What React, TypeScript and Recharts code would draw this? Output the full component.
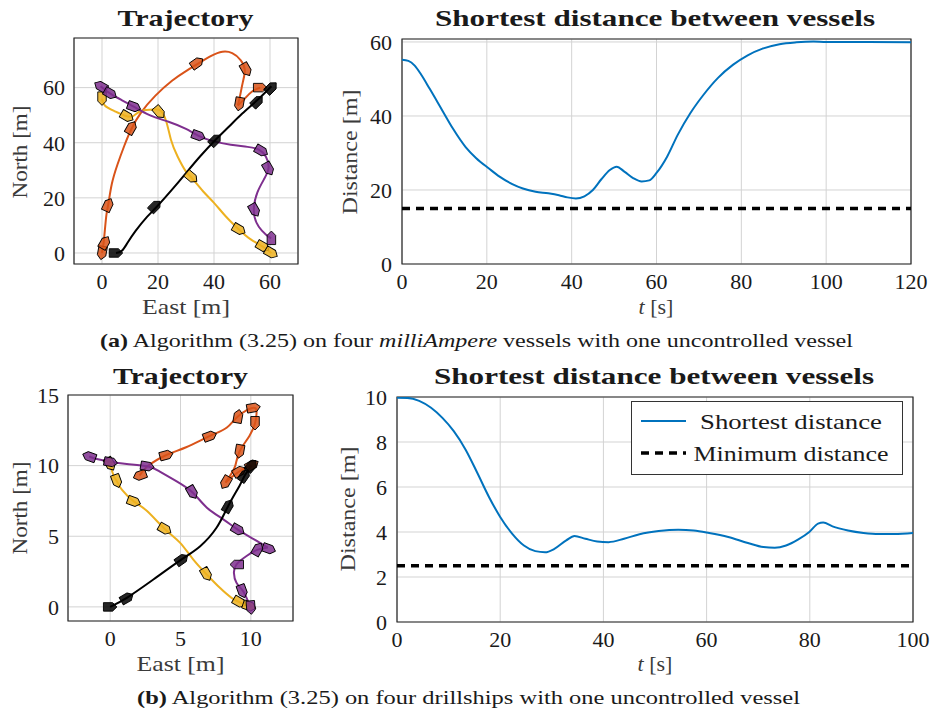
import { ComposedChart, Line, Scatter, XAxis, YAxis, CartesianGrid, ReferenceArea, ReferenceLine, Legend } from 'recharts';

const ORANGE = '#D95319';
const YELLOW = '#EDB120';
const PURPLE = '#7E2F8E';
const BLACK = '#000000';
const BLUE = '#0072BD';
const FONT = "'Liberation Serif', serif";

// ---- (a) milliAmpere vessels: paths as [east, north] in metres ----
const orangePathA1 = [[0, 0], [0.5, 3], [1, 8], [1.6, 14], [2.3, 18], [3.5, 25], [5.5, 32], [8, 39], [10.5, 45], [14, 51], [19, 57], [25, 62.5], [30, 66], [34, 68.5], [39, 71.5], [43, 73], [46.5, 72.5], [49.5, 70], [51, 66.5], [50.3, 62], [49.3, 57], [48.5, 53.5]];
const orangePathA2 = [[48.5, 53.5], [51, 56], [53.5, 58.5], [56.5, 60]];
const yellowPathA = [[0, 56], [1, 53.5], [4.4, 51.5], [8, 49.9], [11, 49.6], [13.9, 51.5], [18.7, 52.1], [21, 51.6], [22.9, 47.9], [24.6, 41.2], [27, 35], [30, 29.5], [32, 27.3], [36, 22.5], [40, 18.2], [44, 13.5], [48.7, 8.7], [53, 5], [57.4, 2.3], [60.5, 0]];
const purplePathA = [[-0.5, 60.5], [3, 57.8], [7, 55.5], [11.5, 53], [17, 50], [24, 47.5], [30, 45], [34.5, 42.5], [40, 40.5], [46, 39.3], [52, 38.5], [56, 37.5], [58.5, 35], [59.5, 31], [58, 27], [55.5, 22], [54.3, 17], [54.5, 13], [56, 9.5], [58.5, 6.7], [60.4, 5.3]];
const blackPathA = [[5, 0], [7, 0.7], [9, 3.5], [12, 8], [16, 13], [19.3, 16.5], [25, 23], [30, 29], [35, 35], [40.5, 41], [45, 45.5], [50, 50.5], [55.5, 55.5], [60.5, 60.5]];

// ship snapshots: [east, north, heading deg]
const orangeShipsA = [[0, 0, -100], [1, 3.8, 60], [2.2, 17.5, 65], [10.5, 45.5, 60], [34, 69, 35], [51.5, 66.5, -60], [49, 54, -100], [56.5, 60, 0]];
const yellowShipsA = [[0, 56, -90], [9, 49.5, -30], [20.5, 51, -50], [32, 27.5, -40], [49, 8.5, -30], [57.5, 2.3, -30], [60.5, 0, -30]];
const purpleShipsA = [[-0.5, 60.5, 150], [3, 57.8, -30], [11.5, 53, -20], [34.5, 42.5, -20], [57, 37, -30], [59.5, 30.5, -60], [54.5, 15.5, -60], [60.5, 5.5, 90]];
const blackShipsA = [[5, 0, 0], [19, 17, 45], [40.5, 41, 45], [55.5, 55, 45], [60.5, 60, 45]];

// ---- (b) drillships ----
const orangePathB1 = [[2.1, 9.3], [2.65, 9.95], [4, 10.75], [5.4, 11.3], [7.1, 12.1], [8.3, 12.7], [9.1, 13.5], [10.2, 14.1], [10.4, 13.6], [10.3, 13], [9.9, 12.1], [9.2, 11], [8.9, 10], [8.6, 9.4], [8.2, 8.8]];
const orangePathB2 = [[8.2, 8.8], [8.6, 9.15], [9.2, 9.6], [10.05, 10.05]];
const yellowPathB = [[0, 10.1], [0.24, 9.3], [0.47, 8.9], [0.83, 8.3], [1.7, 7.45], [2.6, 6.8], [3.9, 5.5], [4.96, 4.55], [5.9, 3.36], [6.86, 2.3], [7.8, 1.35], [8.63, 0.64], [9.2, 0.33], [9.9, 0.05]];
const purplePathB1 = [[-1.5, 10.65], [-0.95, 10.47], [0, 10.28], [1.18, 10.12], [2.65, 9.95], [3.5, 9.6], [4.7, 8.9], [5.86, 8.1], [6.86, 7.04], [8.04, 6.2], [9.1, 5.45], [10.2, 4.8], [11.2, 4.2]];
const purplePathB2 = [[11.2, 4.2], [10.5, 4.05], [9.7, 3.6], [8.98, 3], [8.8, 2.4], [8.98, 1.7], [9.46, 1.1], [9.8, 0.4], [10.05, -0.05]];
const blackPathB = [[0, 0], [1.18, 0.64], [3.07, 1.94], [5.08, 3.36], [6.4, 4.3], [7.56, 5.6], [8.4, 7.16], [9.2, 8.58], [9.57, 9.3], [10.05, 10]];

const orangeShipsB = [[2.1, 9.3, 200], [4, 10.75, 15], [7.1, 12.1, 20], [9.1, 13.5, 80], [10.2, 14.1, 10], [10.3, 13, -90], [9.2, 11, -100], [8.2, 8.8, -120], [9.2, 9.6, 30], [10.1, 10.05, 30]];
const yellowShipsB = [[0, 10.1, -60], [0.47, 8.9, -70], [1.7, 7.45, -20], [3.9, 5.5, -30], [6.85, 2.3, -60], [9.2, 0.33, -30], [9.9, 0.05, -20]];
const purpleShipsB = [[-1.5, 10.65, 160], [0.05, 10.25, -10], [2.65, 9.95, -10], [5.85, 8.1, -60], [9.1, 5.45, -30], [11.3, 4.1, -20], [10.5, 4.1, 60], [9, 3, 180], [9.4, 1.1, -70], [10, -0.05, -85]];
const blackShipsB = [[0, 0, 0], [1.2, 0.64, 30], [5.1, 3.36, 35], [8.4, 7.15, 60], [9.55, 9.3, 55], [10.05, 10, 50]];

// ---- shortest distance between vessels ----
const timeA = [0, 1.5, 3, 4.5, 6.5, 9.5, 12, 15, 17.5, 20.5, 23, 26, 28.5, 31.5, 34.5, 37, 39, 41, 43, 45, 47, 49, 50.6, 52.5, 54.5, 56.5, 58.3, 60, 62.5, 65, 68, 71, 74.5, 78, 81.5, 85, 89, 93, 97, 100, 110, 120];
const distA = [55.2, 54.9, 53.6, 51.2, 47.4, 41.5, 36.6, 31.6, 28.6, 25.8, 23.6, 21.6, 20.4, 19.5, 19.1, 18.6, 18.0, 17.7, 18.3, 20.0, 22.9, 25.4, 26.3, 24.9, 23.2, 22.3, 22.6, 24.6, 29.0, 34.9, 40.8, 45.6, 50.3, 53.8, 56.4, 58.2, 59.4, 59.9, 60.1, 60.0, 60.0, 59.9];
const minDistA = 15;

const timeB = [0, 2, 4.3, 6.6, 8.8, 11, 13.3, 15.6, 17.8, 20, 22.3, 24.6, 26.8, 28.7, 30.5, 32.8, 34.4, 36.5, 38.8, 41, 44, 47, 50.7, 54.5, 57.5, 60.5, 64.2, 68, 71, 73.2, 75.4, 77.7, 79.9, 81.6, 82.6, 84.4, 87.4, 90.4, 93.4, 96.4, 100];
const distB = [9.97, 9.96, 9.83, 9.52, 9.07, 8.48, 7.66, 6.61, 5.57, 4.67, 3.93, 3.40, 3.15, 3.10, 3.25, 3.63, 3.82, 3.70, 3.58, 3.55, 3.70, 3.90, 4.04, 4.10, 4.07, 3.96, 3.78, 3.51, 3.33, 3.30, 3.40, 3.66, 4.00, 4.37, 4.42, 4.25, 4.07, 3.96, 3.91, 3.91, 3.96];
const minDistB = 2.5;

const toPts = (a: number[][]) => a.map(([x, y]) => ({ x, y }));
const toShips = (a: number[][]) => a.map(([x, y, h]) => ({ x, y, h }));

type Track = { color: string; paths: number[][][]; ships: number[][] };

const tracksA: Track[] = [
  { color: ORANGE, paths: [orangePathA1, orangePathA2], ships: orangeShipsA },
  { color: YELLOW, paths: [yellowPathA], ships: yellowShipsA },
  { color: PURPLE, paths: [purplePathA], ships: purpleShipsA },
  { color: BLACK, paths: [blackPathA], ships: blackShipsA },
];
const tracksB: Track[] = [
  { color: ORANGE, paths: [orangePathB1, orangePathB2], ships: orangeShipsB },
  { color: YELLOW, paths: [yellowPathB], ships: yellowShipsB },
  { color: PURPLE, paths: [purplePathB1, purplePathB2], ships: purpleShipsB },
  { color: BLACK, paths: [blackPathB], ships: blackShipsB },
];

const tickStyle = { fill: '#1a1a1a', fontSize: 22, fontFamily: FONT };
const GRID = '#d3d3d3';
const FRAME = '#262626';

// pentagon hull, bow pointing along the heading
const Ship = ({ cx, cy, payload, color }: any) => {
  const L = 13.5;
  const W = 8.5;
  const pts = [[-L / 2, -W / 2], [L * 0.18, -W / 2], [L / 2, 0], [L * 0.18, W / 2], [-L / 2, W / 2]]
    .map(([a, b]) => `${a},${b}`)
    .join(' ');
  return (
    <polygon
      points={pts}
      transform={`translate(${cx},${cy}) rotate(${-payload.h})`}
      fill={color}
      fillOpacity={0.85}
      stroke="#000"
      strokeWidth={0.9}
      strokeLinejoin="round"
    />
  );
};

type TrajProps = {
  left: number; top: number; width: number; height: number;
  margin: { top: number; right: number; bottom: number; left: number };
  yWidth: number;
  xDomain: number[]; yDomain: number[]; xTicks: number[]; yTicks: number[];
  tracks: Track[];
};

const TrajectoryChart = ({ left, top, width, height, margin, yWidth, xDomain, yDomain, xTicks, yTicks, tracks }: TrajProps) => (
  <div style={{ position: 'absolute', left, top }}>
    <ComposedChart width={width} height={height} margin={margin} style={{ fontFamily: FONT }}>
      <CartesianGrid stroke={GRID} strokeWidth={1} />
      <XAxis type="number" dataKey="x" domain={xDomain} ticks={xTicks} interval={0} allowDataOverflow
        axisLine={false} tickLine={false} tickSize={0} tickMargin={9} height={36} tick={tickStyle} />
      <YAxis type="number" dataKey="y" domain={yDomain} ticks={yTicks} interval={0} allowDataOverflow
        axisLine={false} tickLine={false} tickSize={0} tickMargin={9} width={yWidth} tick={tickStyle} />
      {tracks.flatMap((tr, i) =>
        tr.paths.map((p, j) => (
          <Line key={`l${i}-${j}`} data={toPts(p)} dataKey="y" type="natural" stroke={tr.color}
            strokeWidth={2} dot={false} isAnimationActive={false} />
        ))
      )}
      {tracks.map((tr, i) => (
        <Scatter key={`s${i}`} data={toShips(tr.ships)} isAnimationActive={false}
          shape={(p: any) => <Ship {...p} color={tr.color} />} />
      ))}
      <ReferenceArea x1={xDomain[0]} x2={xDomain[1]} y1={yDomain[0]} y2={yDomain[1]}
        fill="none" stroke={FRAME} strokeWidth={1.2} fillOpacity={0} />
    </ComposedChart>
  </div>
);

const LegendBox = () => (
  <svg width={272} height={74} style={{ display: 'block' }}>
    <rect x={0.5} y={0.5} width={271} height={73} fill="#fff" stroke="#333" strokeWidth={1} />
    <line x1={10} x2={55} y1={20} y2={20} stroke={BLUE} strokeWidth={2} />
    <line x1={10} x2={55} y1={52} y2={52} stroke="#000" strokeWidth={3.5} strokeDasharray="8 6" />
    <text x={160} y={28} textAnchor="middle" fontSize={22} fontFamily={FONT} fill="#1a1a1a"
      textLength={182} lengthAdjust="spacingAndGlyphs">Shortest distance</text>
    <text x={160} y={60} textAnchor="middle" fontSize={22} fontFamily={FONT} fill="#1a1a1a"
      textLength={195} lengthAdjust="spacingAndGlyphs">Minimum distance</text>
  </svg>
);

type DistProps = {
  left: number; top: number; width: number; height: number;
  margin: { top: number; right: number; bottom: number; left: number };
  yWidth: number;
  times: number[]; dists: number[]; minDist: number;
  xDomain: number[]; yDomain: number[]; xTicks: number[]; yTicks: number[];
  legend?: boolean;
};

const DistanceChart = ({ left, top, width, height, margin, yWidth, times, dists, minDist, xDomain, yDomain, xTicks, yTicks, legend }: DistProps) => {
  const rows = times.map((t, i) => ({ t, d: dists[i] }));
  return (
    <div style={{ position: 'absolute', left, top }}>
      <ComposedChart width={width} height={height} margin={margin} data={rows} style={{ fontFamily: FONT }}>
        <CartesianGrid stroke={GRID} strokeWidth={1} />
        <XAxis type="number" dataKey="t" domain={xDomain} ticks={xTicks} interval={0} allowDataOverflow
          axisLine={false} tickLine={false} tickSize={0} tickMargin={9} height={36} tick={tickStyle} />
        <YAxis type="number" domain={yDomain} ticks={yTicks} interval={0} allowDataOverflow
          axisLine={false} tickLine={false} tickSize={0} tickMargin={10} width={yWidth} tick={tickStyle} />
        <ReferenceLine y={minDist} stroke="#000" strokeWidth={3.5} strokeDasharray="8 6" />
        <Line dataKey="d" type="monotone" stroke={BLUE} strokeWidth={2} dot={false} isAnimationActive={false} />
        <ReferenceArea x1={xDomain[0]} x2={xDomain[1]} y1={yDomain[0]} y2={yDomain[1]}
          fill="none" stroke={FRAME} strokeWidth={1.2} fillOpacity={0} />
        {legend && (
          <Legend verticalAlign="middle" align="center" layout="horizontal" content={() => <LegendBox />}
            wrapperStyle={{ left: 301, top: 41, width: 272, height: 74 }} />
        )}
      </ComposedChart>
    </div>
  );
};

const Txt = ({ x, y, w, size = 22, rot, bold, fill = '#1a1a1a', children }: any) => (
  <text x={x} y={y} textAnchor="middle" fontSize={size} fontWeight={bold ? 'bold' : 'normal'} fill={fill}
    textLength={w} lengthAdjust={w ? 'spacingAndGlyphs' : undefined}
    transform={rot ? `rotate(-90 ${x} ${y})` : undefined}>
    {children}
  </text>
);

const LABEL = '#3a3a3a';

export default function App() {
  return (
    <div style={{ position: 'absolute', left: 0, top: 0, width: 936, height: 710, background: '#fff', fontFamily: FONT }}>
      <TrajectoryChart left={0} top={0} width={310} height={300}
        margin={{ top: 38, right: 12, bottom: 0, left: 0 }} yWidth={74}
        xDomain={[-10, 70]} yDomain={[-4, 78]} xTicks={[0, 20, 40, 60]} yTicks={[0, 20, 40, 60]} tracks={tracksA} />
      <DistanceChart left={330} top={0} width={600} height={300}
        margin={{ top: 39, right: 19, bottom: 0, left: 0 }} yWidth={72}
        times={timeA} dists={distA} minDist={minDistA}
        xDomain={[0, 120]} yDomain={[0, 60.8]} xTicks={[0, 20, 40, 60, 80, 100, 120]} yTicks={[0, 20, 40, 60]} />
      <TrajectoryChart left={0} top={360} width={305} height={330}
        margin={{ top: 35, right: 12, bottom: 33, left: 0 }} yWidth={68}
        xDomain={[-3, 13]} yDomain={[-1, 15]} xTicks={[0, 5, 10]} yTicks={[0, 5, 10, 15]} tracks={tracksB} />
      <DistanceChart left={330} top={360} width={600} height={330}
        margin={{ top: 37, right: 17, bottom: 32, left: 0 }} yWidth={67}
        times={timeB} dists={distB} minDist={minDistB}
        xDomain={[0, 100]} yDomain={[0, 10]} xTicks={[0, 20, 40, 60, 80, 100]} yTicks={[0, 2, 4, 6, 8, 10]} legend />

      <svg width={936} height={710} style={{ position: 'absolute', left: 0, top: 0, pointerEvents: 'none' }} fontFamily={FONT}>
        <Txt x={185.5} y={26} w={136} size={24} bold>Trajectory</Txt>
        <Txt x={655} y={26} w={440} size={24} bold>Shortest distance between vessels</Txt>
        <Txt x={180.5} y={384} w={135} size={24} bold>Trajectory</Txt>
        <Txt x={654} y={384} w={440} size={24} bold>Shortest distance between vessels</Txt>

        <Txt x={27} y={152} w={93} rot fill={LABEL}>North [m]</Txt>
        <Txt x={186} y={314} w={88} fill={LABEL}>East [m]</Txt>
        <Txt x={357} y={152} w={125} rot fill={LABEL}>Distance [m]</Txt>
        <Txt x={656} y={314} fill={LABEL}><tspan fontStyle="italic">t</tspan> [s]</Txt>

        <Txt x={27} y={508} w={93} rot fill={LABEL}>North [m]</Txt>
        <Txt x={180.5} y={671} w={88} fill={LABEL}>East [m]</Txt>
        <Txt x={355} y={509} w={125} rot fill={LABEL}>Distance [m]</Txt>
        <Txt x={655} y={671} fill={LABEL}><tspan fontStyle="italic">t</tspan> [s]</Txt>

        <Txt x={476.5} y={347} w={753} size={19}>
          <tspan fontWeight="bold">(a)</tspan> Algorithm (3.25) on four <tspan fontStyle="italic">milliAmpere</tspan> vessels with one uncontrolled vessel
        </Txt>
        <Txt x={468.5} y={704} w={663} size={19}>
          <tspan fontWeight="bold">(b)</tspan> Algorithm (3.25) on four drillships with one uncontrolled vessel
        </Txt>
      </svg>
    </div>
  );
}
